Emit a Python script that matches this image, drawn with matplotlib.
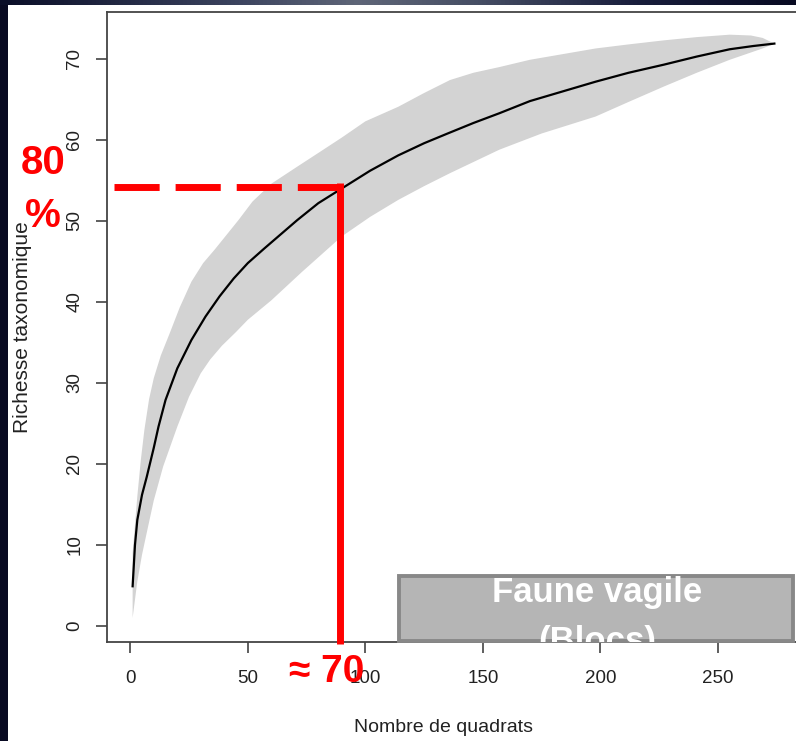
import numpy as np
import matplotlib
matplotlib.use("Agg")
import matplotlib.pyplot as plt
from matplotlib.patches import Rectangle

plt.rcParams['font.family'] = ['Liberation Sans', 'DejaVu Sans']

# courbe moyenne
x_mean = [1, 2, 3, 5, 7, 10, 12, 15, 20, 26, 32, 38, 44, 50, 57, 63, 71, 80, 91,
          102, 114, 125, 135, 146, 157, 170, 184, 198, 212, 227, 241, 255, 265, 274]
mean = [4.9, 10.0, 13.1, 16.2, 18.4, 22.0, 24.6, 27.9, 31.8, 35.3, 38.2, 40.7, 42.9,
        44.8, 46.6, 48.1, 50.1, 52.2, 54.2, 56.2, 58.1, 59.6, 60.8, 62.1, 63.3, 64.8,
        66.0, 67.2, 68.3, 69.3, 70.3, 71.2, 71.6, 71.9]

# enveloppe (borne haute / basse)
x_up = [1, 2, 3, 4.5, 6, 8, 10, 13, 17, 21, 26, 31, 36, 41, 46, 52, 60, 71, 80, 90, 100,
        114, 125, 136, 146, 157, 170, 178, 198, 212, 227, 241, 255, 264, 269, 274]
upper = [9.0, 12.5, 16.0, 20.5, 24.2, 28.0, 30.6, 33.4, 36.3, 39.3, 42.5, 44.8, 46.5,
         48.3, 50.1, 52.4, 54.6, 56.7, 58.4, 60.3, 62.3, 64.1, 65.8, 67.4, 68.3, 69.0,
         69.9, 70.3, 71.3, 71.8, 72.3, 72.7, 73.0, 72.9, 72.6, 71.9]
x_lo = [1, 3, 5, 7, 10, 14, 20, 25, 30, 34, 39, 45, 50, 60, 73, 90, 102, 114, 125,
        136, 157, 175, 198, 212, 227, 241, 255, 269, 274]
lower = [1.0, 5.5, 8.8, 11.5, 15.5, 19.7, 24.6, 28.3, 31.2, 32.9, 34.6, 36.3, 37.8,
         40.2, 43.7, 48.1, 50.5, 52.6, 54.3, 55.9, 58.8, 60.8, 62.9, 64.7, 66.6, 68.3,
         69.9, 71.3, 71.9]

xticks = [0, 50, 100, 150, 200, 250]
yticks = [0, 10, 20, 30, 40, 50, 60, 70]

# seuil 80 %
x_seuil = 89.4
y_seuil = 54.2

W, H = 796, 741
fig = plt.figure(figsize=(W / 100, H / 100), dpi=100, facecolor='#080a22')
fig.add_artist(Rectangle((8 / W, 0), 1, 1 - 5 / H, transform=fig.transFigure,
                         facecolor='white', edgecolor='none', zorder=0))

# bandeau du haut (fond de diapo)
top = fig.add_axes([0, 1 - 5 / H, 1, 5 / H])
stops = [0, 0.3, 0.45, 0.6, 0.8, 1]
cols = np.array([[10, 14, 40], [60, 68, 95], [95, 102, 120], [70, 78, 100], [25, 30, 60], [8, 10, 34]]) / 255
pos = np.linspace(0, 1, 200)
grad = np.stack([np.interp(pos, stops, cols[:, k]) for k in range(3)], axis=-1)[None, :, :]
top.imshow(grad, aspect='auto', extent=[0, 1, 0, 1])
top.axis('off')

ax = fig.add_axes([107 / W, 99 / H, 693 / W, 630 / H])
ax.set_xlim(-9.9, 284.9)
ax.set_ylim(-1.98, 75.8)

ax.fill(np.concatenate([x_up, x_lo[::-1]]), np.concatenate([upper, lower[::-1]]),
        color='#d3d3d3', lw=0, zorder=1)
ax.plot(x_mean, mean, color='black', lw=1.6, zorder=2)

for s in ax.spines.values():
    s.set_color('#444444')
    s.set_linewidth(1.3)

ax.set_xticks(xticks)
ax.set_yticks(yticks)
ax.tick_params(length=8, width=1.1, color='#333333', labelsize=13.5, labelcolor='#222222')
ax.tick_params(axis='x', pad=12)
ax.tick_params(axis='y', pad=9)
for lab in ax.get_yticklabels():
    lab.set_rotation(90)
    lab.set_va('center')

ax.set_xlabel('Nombre de quadrats', fontsize=14, color='#222222')
ax.xaxis.set_label_coords((444 - 107) / 693, (14 - 99) / 630)
ax.xaxis.label.set_va('center')
ax.set_ylabel('Richesse taxonomique', fontsize=15, color='#222222')
ax.yaxis.set_label_coords((22 - 107) / 693, 0.5)
ax.yaxis.label.set_va('center')

# lignes rouges
ax.plot([-6.9, x_seuil + 1.5], [y_seuil, y_seuil], color='#ff0000', lw=5,
        linestyle=(0, (6.5, 2.3)), solid_capstyle='butt', dash_capstyle='butt',
        clip_on=False, zorder=5)
ax.plot([x_seuil, x_seuil], [y_seuil + 0.45, -2.2], color='#ff0000', lw=5,
        solid_capstyle='butt', clip_on=False, zorder=5)

fig.text(43 / W, 1 - 163 / H, '80', color='#ff0000', fontsize=29, fontweight='bold',
         ha='center', va='center')
fig.text(43 / W, 1 - 216 / H, '%', color='#ff0000', fontsize=29, fontweight='bold',
         ha='center', va='center')
fig.text(327 / W, 1 - 672 / H, '≈ 70', color='#ff0000', fontsize=28, fontweight='bold',
         ha='center', va='center', zorder=6)

# encadré
ax.add_patch(Rectangle((114.3, -1.9), 167.5, 8.05, facecolor='#b5b5b5',
                       edgecolor='#888888', lw=2.8, zorder=6, clip_on=False))
ax.text(198.5, 2.96, 'Faune vagile', color='white', fontsize=25, fontweight='bold',
        ha='center', va='baseline', zorder=7, clip_on=True)
ax.text(198.5, -3.1, '(Blocs)', color='white', fontsize=25, fontweight='bold',
        ha='center', va='baseline', zorder=7, clip_on=True)

fig.savefig('out.png', dpi=100, facecolor=fig.get_facecolor())
